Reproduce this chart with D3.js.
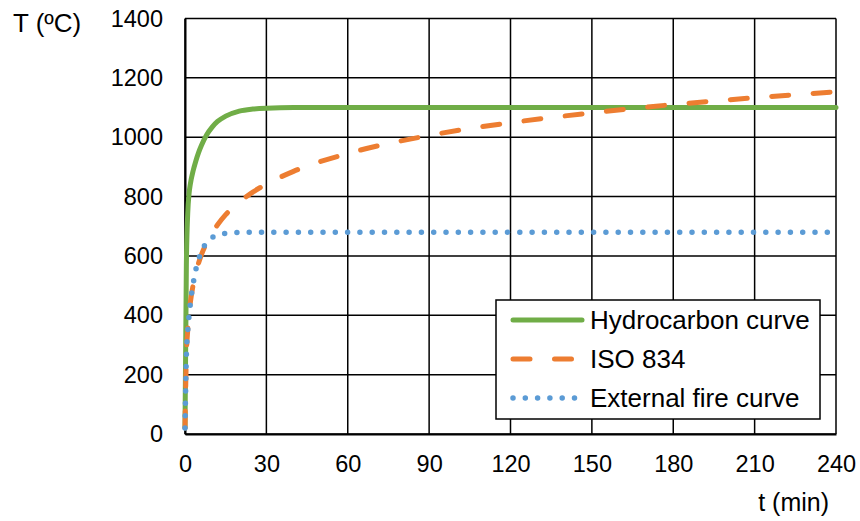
<!DOCTYPE html>
<html>
<head>
<meta charset="utf-8">
<script src="https://cdn.jsdelivr.net/npm/d3@7"></script>
<style>
  body { margin: 0; background: #fff; }
  text { font-family: "Liberation Sans", Arial, sans-serif; fill: #000; }
</style>
</head>
<body>
<svg id="chart" width="860" height="521"></svg>
<script>
// time (min) at which the curves were read
const times = [0, 0.5, 1, 1.5, 2, 3, 4, 5, 6, 8, 10, 12, 15, 20, 25, 30, 40, 60, 90, 120, 150, 180, 210, 240];

// temperatures (°C)
const hydrocarbon = [20, 568, 743, 810, 844, 887, 920, 948, 971, 1008, 1034, 1053, 1071, 1088, 1095, 1098, 1100, 1100, 1100, 1100, 1100, 1100, 1100, 1100];
const iso834 = [20, 261, 349, 404, 445, 502, 544, 576, 603, 645, 678, 705, 739, 781, 815, 842, 885, 945, 1006, 1049, 1082, 1110, 1133, 1153];
const externalFire = [20, 263, 346, 399, 441, 506, 554, 588, 614, 645, 662, 670, 676, 679, 680, 680, 680, 680, 680, 680, 680, 680, 680, 680];

const xTicks = [0, 30, 60, 90, 120, 150, 180, 210, 240];
const yTicks = [0, 200, 400, 600, 800, 1000, 1200, 1400];

const seriesNames = ["Hydrocarbon curve", "ISO 834", "External fire curve"];

const svg = d3.select("#chart");
const margin = { top: 18.5, right: 24, bottom: 87, left: 185 };
const width = +svg.attr("width") - margin.left - margin.right;
const height = +svg.attr("height") - margin.top - margin.bottom;

const x = d3.scaleLinear().domain([0, 240]).range([0, width]);
const y = d3.scaleLinear().domain([0, 1400]).range([height, 0]);

const g = svg.append("g").attr("transform", `translate(${margin.left},${margin.top})`);

// grid
g.selectAll(".hgrid").data(yTicks).enter().append("line")
  .attr("x1", 0).attr("x2", width)
  .attr("y1", d => y(d)).attr("y2", d => y(d))
  .attr("stroke", "#000").attr("stroke-width", 1.5);
g.selectAll(".vgrid").data(xTicks).enter().append("line")
  .attr("x1", d => x(d)).attr("x2", d => x(d))
  .attr("y1", 0).attr("y2", height)
  .attr("stroke", "#000").attr("stroke-width", 1.5);

// axes
const xAxis = g.append("g").attr("transform", `translate(0,${height})`)
  .call(d3.axisBottom(x).tickValues(xTicks).tickSize(0).tickPadding(21));
const yAxis = g.append("g")
  .call(d3.axisLeft(y).tickValues(yTicks).tickFormat(d3.format("d")).tickSize(0).tickPadding(22));
[xAxis, yAxis].forEach(a => {
  a.select(".domain").attr("stroke", "#000").attr("stroke-width", 2);
  a.selectAll("text").attr("font-size", "23.5px")
    .attr("font-family", "'Liberation Sans', Arial, sans-serif").attr("fill", "#000");
});

// series
const styles = [
  { color: "#70AD47", width: 5, dash: null },
  { color: "#ED7D31", width: 5, dash: "17 24.5" },
  { color: "#5B9BD5", width: 5.5, dash: "0 12.3" }
];
const allSeries = [hydrocarbon, iso834, externalFire];

const line = d3.line()
  .x(d => x(d[0]))
  .y(d => y(d[1]))
  .curve(d3.curveMonotoneX);

allSeries.forEach((vals, i) => {
  const s = styles[i];
  g.append("path")
    .datum(times.map((t, j) => [t, vals[j]]))
    .attr("d", line)
    .attr("fill", "none")
    .attr("stroke", s.color)
    .attr("stroke-width", s.width)
    .attr("stroke-linecap", "round")
    .attr("stroke-linejoin", "round")
    .attr("stroke-dasharray", s.dash);
});

// legend
const legend = svg.append("g").attr("transform", "translate(496,300)");
legend.append("rect")
  .attr("width", 324).attr("height", 119)
  .attr("fill", "#fff").attr("stroke", "#000").attr("stroke-width", 1.5);
seriesNames.forEach((name, i) => {
  const s = styles[i];
  const yy = 20 + i * 39;
  legend.append("line")
    .attr("x1", 17).attr("x2", 86).attr("y1", yy).attr("y2", yy)
    .attr("stroke", s.color).attr("stroke-width", s.width)
    .attr("stroke-linecap", "round")
    .attr("stroke-dasharray", s.dash);
  legend.append("text")
    .attr("x", 94).attr("y", yy + 9)
    .attr("font-size", "26px")
    .text(name);
});

// axis titles
svg.append("text").attr("x", 13).attr("y", 32).attr("font-size", "26px").text("T (ºC)");
svg.append("text").attr("x", 829).attr("y", 511).attr("text-anchor", "end")
  .attr("font-size", "25px").text("t (min)");
</script>
</body>
</html>
